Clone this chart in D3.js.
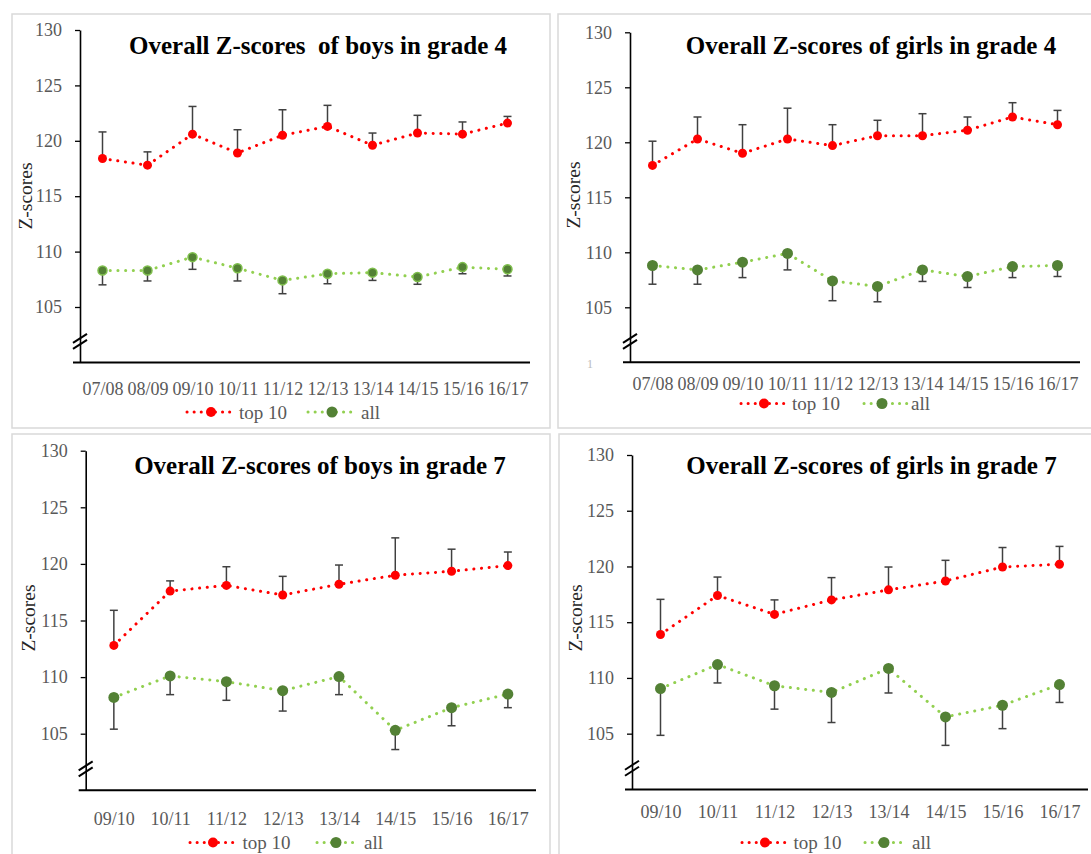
<!DOCTYPE html>
<html>
<head>
<meta charset="utf-8">
<script src="https://cdn.jsdelivr.net/npm/d3@7"></script>
<style>
  html, body { margin: 0; padding: 0; background: #fff; }
  svg { display: block; }
</style>
</head>
<body>
<svg id="chart" width="1091" height="854"></svg>
<script>
// ---------- DATA ----------
const yearsG4 = ["07/08","08/09","09/10","10/11","11/12","12/13","13/14","14/15","15/16","16/17"];
const yearsG7 = ["09/10","10/11","11/12","12/13","13/14","14/15","15/16","16/17"];
const yTicks = [105, 110, 115, 120, 125, 130];
const yDomain = [100, 130];
const seriesNames = ["top 10", "all"];

const boys4Top10    = [118.4, 117.8, 120.6, 118.9, 120.5, 121.3, 119.6, 120.7, 120.6, 121.6];
const boys4Top10Hi  = [120.8, 119.0, 123.1, 121.0, 122.8, 123.2, 120.7, 122.3, 121.7, 122.2];
const boys4All      = [108.3, 108.3, 109.5, 108.5, 107.4, 108.0, 108.1, 107.7, 108.6, 108.4];
const boys4AllLo    = [107.0, 107.35, 108.4, 107.35, 106.2, 107.1, 107.4, 107.05, 108.0, 107.8];

const girls4Top10   = [117.9, 120.3, 119.0, 120.3, 119.7, 120.6, 120.6, 121.1, 122.3, 121.6];
const girls4Top10Hi = [120.1, 122.3, 121.6, 123.1, 121.6, 122.0, 122.6, 122.3, 123.6, 122.9];
const girls4All     = [108.8, 108.4, 109.1, 109.9, 107.4, 106.9, 108.4, 107.8, 108.7, 108.8];
const girls4AllLo   = [107.1, 107.1, 107.7, 108.4, 105.6, 105.5, 107.35, 106.8, 107.7, 107.8];

const boys7Top10    = [112.8, 117.6, 118.1, 117.25, 118.2, 119.0, 119.35, 119.85];
const boys7Top10Hi  = [115.9, 118.5, 119.75, 118.9, 119.9, 122.3, 121.3, 121.05];
const boys7All      = [108.2, 110.1, 109.6, 108.8, 110.05, 105.3, 107.3, 108.5];
const boys7AllLo    = [105.4, 108.45, 107.95, 107.0, 108.45, 103.6, 105.7, 107.3];

const girls7Top10   = [113.9, 117.4, 115.7, 117.0, 117.9, 118.7, 119.95, 120.2];
const girls7Top10Hi = [117.05, 119.05, 117.0, 119.0, 119.95, 120.55, 121.7, 121.8];
const girls7All     = [109.05, 111.2, 109.3, 108.7, 110.85, 106.5, 107.55, 109.4];
const girls7AllLo   = [104.85, 109.55, 107.2, 106.0, 108.65, 103.95, 105.45, 107.8];

const titles = [
  "Overall Z-scores  of boys in grade 4",
  "Overall Z-scores of girls in grade 4",
  "Overall Z-scores of boys in grade 7",
  "Overall Z-scores of girls in grade 7"
];
const yTitle = "Z-scores";

// ---------- LAYOUT ----------
const FONT = "'Liberation Serif','Times New Roman',serif";
const RED = "#ff0000", GREEN_LINE = "#92d050", GREEN_MARK = "#538135", ERR = "#404040";

const panels = [
  { title: titles[0], cats: yearsG4, top: boys4Top10, topHi: boys4Top10Hi, all: boys4All, allLo: boys4AllLo,
    box: [12, 14, 550, 428], xr: [80, 530], yr: [362.4, 30], tickPad: 19.5, titleX: 318, titleY: 45,
    yTitleX: 25.5, yTitleY: 196, legY: 412, legR: [187, 235, 211, 239], legG: [308, 355, 332, 361],
    greenR: 4.5, greenStroke: "#7fbf4d", redR: 4.5 },
  { title: titles[1], cats: yearsG4, top: girls4Top10, topHi: girls4Top10Hi, all: girls4All, allLo: girls4AllLo,
    box: [558, 14, 1100, 428], xr: [630, 1080], yr: [362.3, 32.3], tickPad: 15, titleX: 871, titleY: 45,
    yTitleX: 573.5, yTitleY: 195, legY: 403.5, legR: [741, 785, 764, 792], legG: [864, 907, 882, 911],
    greenR: 5.5, greenStroke: null, redR: 4.5, stray: true },
  { title: titles[2], cats: yearsG7, top: boys7Top10, topHi: boys7Top10Hi, all: boys7All, allLo: boys7AllLo,
    box: [12, 434, 550, 880], xr: [85.7, 536], yr: [790.3, 450.7], tickPad: 22, titleX: 320, titleY: 465,
    yTitleX: 28, yTitleY: 618, legY: 842.5, legR: [190, 236, 213, 242.5], legG: [317, 358, 336, 364],
    greenR: 5.5, greenStroke: null, redR: 4.5 },
  { title: titles[3], cats: yearsG7, top: girls7Top10, topHi: girls7Top10Hi, all: girls7All, allLo: girls7AllLo,
    box: [559, 434, 1100, 880], xr: [632, 1088], yr: [789.4, 455], tickPad: 15.5, titleX: 871.5, titleY: 465,
    yTitleX: 575, yTitleY: 618, legY: 842.5, legR: [742, 789, 765, 793.5], legG: [865, 907, 884, 912],
    greenR: 5.5, greenStroke: null, redR: 4.5 }
];

const svg = d3.select("#chart");
svg.append("rect").attr("width", 1091).attr("height", 854).attr("fill", "#fff");

panels.forEach(p => {
  const g = svg.append("g");
  const [bx0, by0, bx1, by1] = p.box;
  g.append("rect").attr("x", bx0).attr("y", by0).attr("width", bx1 - bx0).attr("height", by1 - by0)
    .attr("fill", "none").attr("stroke", "#d9d9d9").attr("stroke-width", 1.5);

  const x = d3.scalePoint().domain(p.cats).range(p.xr).padding(0.5);
  const y = d3.scaleLinear().domain(yDomain).range(p.yr);

  // y axis
  const ya = g.append("g").attr("transform", `translate(${p.xr[0]},0)`)
    .call(d3.axisLeft(y).tickValues(yTicks).tickSize(5).tickSizeOuter(0).tickPadding(13).tickFormat(d3.format("d")));
  ya.select(".domain").attr("stroke", "#000").attr("stroke-width", 1.6);
  ya.selectAll(".tick line").attr("stroke", "#000").attr("stroke-width", 1.3);
  ya.selectAll(".tick text").attr("font-family", FONT).attr("font-size", 18).attr("fill", "#595959");

  // x axis
  const xa = g.append("g").attr("transform", `translate(0,${y(100)})`)
    .call(d3.axisBottom(x).tickSize(0).tickPadding(p.tickPad));
  xa.select(".domain").remove();
  xa.selectAll(".tick text").attr("font-family", FONT).attr("font-size", 18).attr("fill", "#595959");
  g.append("line").attr("x1", p.xr[0] - 7).attr("x2", p.xr[1]).attr("y1", y(100)).attr("y2", y(100))
    .attr("stroke", "#000").attr("stroke-width", 2);

  // axis break marks
  const yb = y(101.9);
  [-3, 3].forEach(off => {
    g.append("line").attr("x1", p.xr[0] - 7).attr("y1", yb + 4.5 + off)
      .attr("x2", p.xr[0] + 7).attr("y2", yb - 4.5 + off)
      .attr("stroke", "#000").attr("stroke-width", 2);
  });

  // titles
  g.append("text").attr("x", p.titleX).attr("y", p.titleY + 8.5).attr("text-anchor", "middle")
    .attr("font-family", FONT).attr("font-weight", "bold").attr("font-size", 25).attr("fill", "#000")
    .attr("xml:space", "preserve").text(p.title);
  g.append("text").attr("transform", `translate(${p.yTitleX},${p.yTitleY}) rotate(-90)`)
    .attr("text-anchor", "middle").attr("dy", "0.35em")
    .attr("font-family", FONT).attr("font-size", 19.5).attr("fill", "#262626").text(yTitle);

  if (p.stray) {
    g.append("text").attr("x", p.xr[0] - 43).attr("y", y(100) + 6).attr("font-family", FONT)
      .attr("font-size", 12).attr("fill", "#bbb").text("1");
  }

  const line = d3.line().x((d, i) => x(p.cats[i])).y(d => y(d));
  const dash = "0.1 7.6";
  // lines
  g.append("path").attr("d", line(p.top)).attr("fill", "none").attr("stroke", RED)
    .attr("stroke-width", 3).attr("stroke-linecap", "round").attr("stroke-dasharray", dash);
  g.append("path").attr("d", line(p.all)).attr("fill", "none").attr("stroke", GREEN_LINE)
    .attr("stroke-width", 3).attr("stroke-linecap", "round").attr("stroke-dasharray", dash);

  // error bars
  const errG = g.append("g").attr("stroke", ERR).attr("stroke-width", 1.5);
  p.top.forEach((v, i) => {
    const cx = x(p.cats[i]);
    errG.append("line").attr("x1", cx).attr("x2", cx).attr("y1", y(v)).attr("y2", y(p.topHi[i]));
    errG.append("line").attr("x1", cx - 4).attr("x2", cx + 4).attr("y1", y(p.topHi[i])).attr("y2", y(p.topHi[i]));
  });
  p.all.forEach((v, i) => {
    const cx = x(p.cats[i]);
    errG.append("line").attr("x1", cx).attr("x2", cx).attr("y1", y(v)).attr("y2", y(p.allLo[i]));
    errG.append("line").attr("x1", cx - 4).attr("x2", cx + 4).attr("y1", y(p.allLo[i])).attr("y2", y(p.allLo[i]));
  });

  // markers
  g.selectAll(null).data(p.top).enter().append("circle")
    .attr("cx", (d, i) => x(p.cats[i])).attr("cy", d => y(d)).attr("r", p.redR).attr("fill", RED);
  g.selectAll(null).data(p.all).enter().append("circle")
    .attr("cx", (d, i) => x(p.cats[i])).attr("cy", d => y(d)).attr("r", p.greenR).attr("fill", GREEN_MARK)
    .attr("stroke", p.greenStroke || "none").attr("stroke-width", p.greenStroke ? 1.5 : 0);

  // legend
  const legs = [
    { name: seriesNames[0], pos: p.legR, line: RED, mark: RED, r: 5 },
    { name: seriesNames[1], pos: p.legG, line: GREEN_LINE, mark: GREEN_MARK, r: 5.5 }
  ];
  legs.forEach(l => {
    g.append("line").attr("x1", l.pos[0]).attr("x2", l.pos[1]).attr("y1", p.legY).attr("y2", p.legY)
      .attr("stroke", l.line).attr("stroke-width", 3).attr("stroke-linecap", "round").attr("stroke-dasharray", "0.1 7");
    g.append("circle").attr("cx", l.pos[2]).attr("cy", p.legY).attr("r", l.r).attr("fill", l.mark);
    g.append("text").attr("x", l.pos[3]).attr("y", p.legY).attr("dy", "0.35em")
      .attr("font-family", FONT).attr("font-size", 19).attr("fill", "#595959").text(l.name);
  });
});
</script>
</body>
</html>
